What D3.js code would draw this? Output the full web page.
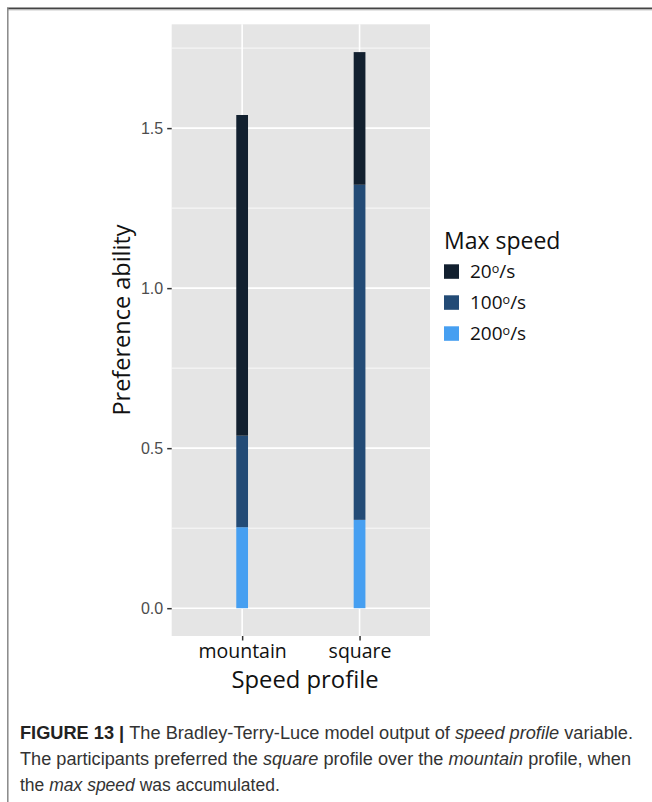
<!DOCTYPE html>
<html><head><meta charset="utf-8">
<script src="https://cdn.jsdelivr.net/npm/d3@7"></script>
<style>html,body{margin:0;padding:0;background:#fff;}svg{display:block;}</style>
</head><body>
<svg id="chart" width="652" height="802"></svg>
<script>
const categories = ["mountain", "square"];
const seriesKeys = ["s200", "s100", "s20"];
const seriesLabels = {s20: "20", s100: "100", s200: "200"};
const values200 = [0.253, 0.276];
const values100 = [0.286, 1.047];
const values20  = [1.002, 0.4145];
const yTicks = [0, 0.5, 1.0, 1.5];
const yMinor = [0.25, 0.75, 1.25, 1.75];
const legendOrder = ["s20", "s100", "s200"];
const colors = {s20: "#12202F", s100: "#234B76", s200: "#469FF1"};

const rows = categories.map((c, i) => ({cat: c, s200: values200[i], s100: values100[i], s20: values20[i]}));

const svg = d3.select("#chart");
const panel = {left: 171.7, right: 430, top: 24.3, bottom: 636};

// frame
svg.append("line").attr("x1", 7).attr("x2", 652).attr("y1", 8.5).attr("y2", 8.5).attr("stroke", "#444").attr("stroke-width", 2);
svg.append("line").attr("x1", 7).attr("x2", 652).attr("y1", 10).attr("y2", 10).attr("stroke", "#ccc").attr("stroke-width", 1);
svg.append("line").attr("x1", 7.8).attr("x2", 7.8).attr("y1", 8).attr("y2", 802).attr("stroke", "#888").attr("stroke-width", 1.5);

const stack = d3.stack().keys(seriesKeys);
const stacked = stack(rows);
const maxTotal = d3.max(rows, r => r.s200 + r.s100 + r.s20);
const pad = maxTotal * 0.05;

const y = d3.scaleLinear().domain([-pad, maxTotal + pad]).range([panel.bottom, panel.top]);
const x = d3.scalePoint().domain(categories).range([panel.left, panel.right]).padding(0.6);
const barW = x.step() * 0.1;

svg.append("rect").attr("x", panel.left).attr("y", panel.top)
  .attr("width", panel.right - panel.left).attr("height", panel.bottom - panel.top).attr("fill", "#E5E5E5");

const g = svg.append("g");
g.selectAll(".minor").data(yMinor).join("line")
  .attr("x1", panel.left).attr("x2", panel.right)
  .attr("y1", d => y(d)).attr("y2", d => y(d))
  .attr("stroke", "#fff").attr("stroke-width", 0.8);
g.selectAll(".major").data(yTicks).join("line")
  .attr("x1", panel.left).attr("x2", panel.right)
  .attr("y1", d => y(d)).attr("y2", d => y(d))
  .attr("stroke", "#fff").attr("stroke-width", 1.6);
g.selectAll(".vmajor").data(categories).join("line")
  .attr("x1", d => x(d)).attr("x2", d => x(d))
  .attr("y1", panel.top).attr("y2", panel.bottom)
  .attr("stroke", "#fff").attr("stroke-width", 1.6);

// bars
svg.append("g").selectAll("g").data(stacked).join("g")
  .attr("fill", d => colors[d.key])
  .selectAll("rect").data(d => d).join("rect")
  .attr("x", d => x(d.data.cat) - barW / 2)
  .attr("width", barW)
  .attr("y", d => y(d[1]))
  .attr("height", d => y(d[0]) - y(d[1]));

// y axis
const yAxis = d3.axisLeft(y).tickValues(yTicks).tickFormat(d3.format(".1f")).tickSize(4.5).tickPadding(4);
const ya = svg.append("g").attr("transform", `translate(${panel.left},0)`).call(yAxis);
ya.select(".domain").remove();
ya.selectAll(".tick line").attr("stroke", "#333").attr("stroke-width", 1.5);
ya.selectAll(".tick text").attr("fill", "#4D4D4D").style("font-family", "'Liberation Sans', Arial, sans-serif").style("font-size", "16px");

// x axis
const xAxis = d3.axisBottom(x).tickSize(4.5).tickPadding(4);
const xa = svg.append("g").attr("transform", `translate(0,${panel.bottom})`).call(xAxis);
xa.select(".domain").remove();
xa.selectAll(".tick line").attr("stroke", "#333").attr("stroke-width", 1.5);
xa.selectAll(".tick text").attr("fill", "#111").attr("dy", null).attr("y", 22)
  .style("font-family", "'Open Sans', sans-serif").style("font-size", "19.5px");

const titleFont = "'Open Sans', sans-serif";
svg.append("text").attr("x", 305).attr("y", 688).attr("text-anchor", "middle")
  .style("font-family", titleFont).style("font-size", "23.8px").attr("fill", "#111").text("Speed profile");
svg.append("text").attr("transform", "translate(130,320) rotate(-90)").attr("text-anchor", "middle")
  .style("font-family", titleFont).style("font-size", "23.5px").attr("fill", "#111").text("Preference ability");

// legend
const lg = svg.append("g");
lg.append("text").attr("x", 444).attr("y", 249).style("font-family", titleFont).style("font-size", "23px").attr("fill", "#111").text("Max speed");
const items = lg.selectAll(".item").data(legendOrder).join("g").attr("transform", (d, i) => `translate(444,${264.3 + i * 31})`);
items.append("rect").attr("width", 15).attr("height", 14.5).attr("fill", d => colors[d]);
const lt = items.append("text").attr("x", 26).attr("y", 14).style("font-family", titleFont).style("font-size", "19px").attr("fill", "#111");
lt.append("tspan").text(d => seriesLabels[d]);
lt.append("tspan").attr("dy", -5).style("font-size", "12.5px").text("o");
lt.append("tspan").attr("dy", 5).text("/s");

// caption
const cap = svg.append("g").style("font-family", "'Liberation Sans', Arial, sans-serif").style("font-size", "17.5px").attr("fill", "#333");
const lines = [
  [["FIGURE 13 | ", "bold"], ["The Bradley-Terry-Luce model output of ", ""], ["speed profile", "italic"], [" variable.", ""]],
  [["The participants preferred the ", ""], ["square", "italic"], [" profile over the ", ""], ["mountain", "italic"], [" profile, when", ""]],
  [["the ", ""], ["max speed", "italic"], [" was accumulated.", ""]]
];
const targetW = [613, 611, 0];
lines.forEach((ln, i) => {
  const t = cap.append("text").attr("x", 20).attr("y", 739 + i * 26);
  ln.forEach(([s, st]) => {
    const ts = t.append("tspan").text(s);
    if (st === "bold") ts.attr("font-weight", "bold").attr("fill", "#222");
    if (st === "italic") ts.attr("font-style", "italic");
  });
  if (targetW[i]) t.attr("textLength", targetW[i]).attr("lengthAdjust", "spacingAndGlyphs");
});
</script>
</body></html>
